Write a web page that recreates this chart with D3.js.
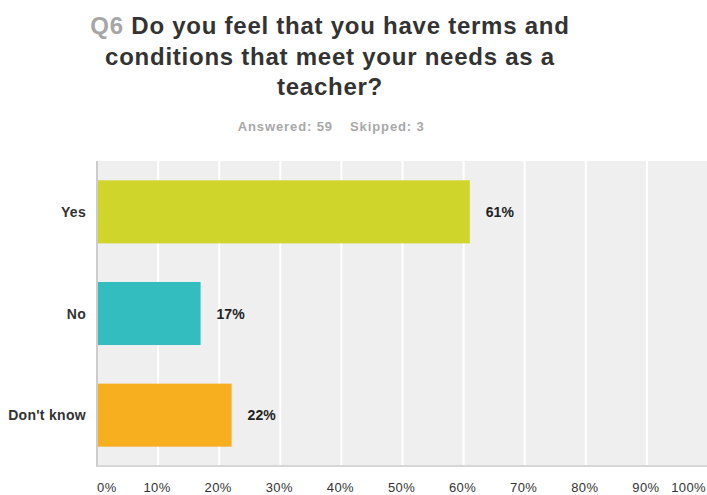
<!DOCTYPE html>
<html><head><meta charset="utf-8">
<script src="https://cdn.jsdelivr.net/npm/d3@7"></script>
<style>body{margin:0;background:#fff;}svg{display:block;font-family:"Liberation Sans",Arial,Helvetica,sans-serif;}</style>
</head><body>
<script>
const categories = ["Yes", "No", "Don't know"];
const values = [61.02, 16.95, 22.03];
const valueLabels = ["61%", "17%", "22%"];
const barColors = ["#cfd52a", "#33bdbf", "#f7af20"];
const tickValues = [0, 10, 20, 30, 40, 50, 60, 70, 80, 90, 100];
const tickLabels = ["0%", "10%", "20%", "30%", "40%", "50%", "60%", "70%", "80%", "90%", "100%"];
const titleLines = ["Do you feel that you have terms and", "conditions that meet your needs as a", "teacher?"];

(function () {
const W = 707, H = 495;
const svg = d3.select("body").append("svg").attr("width", W).attr("height", H);

const pLeft = 97, pRight = 708, pTop = 161, pBottom = 466;
const x = d3.scaleLinear().domain([0, 100]).range([pLeft, pRight]);
const y = d3.scaleBand().domain(categories).range([pTop, pBottom]).paddingInner(0.38).paddingOuter(0.19);

// Title
const cx = 330;
const titleStyle = sel => sel.attr("text-anchor", "middle").style("font-size", "24px")
  .style("font-weight", "bold").style("letter-spacing", "0.75px").attr("fill", "#333");
const t1 = svg.append("text").attr("x", cx).attr("y", 34).call(titleStyle);
t1.append("tspan").attr("fill", "#a6a6a6").text("Q6 ");
t1.append("tspan").text(titleLines[0]);
svg.append("text").attr("x", cx).attr("y", 65).call(titleStyle).text(titleLines[1]);
svg.append("text").attr("x", cx).attr("y", 95).call(titleStyle).text(titleLines[2]);

svg.append("text").attr("x", 333).attr("y", 131).attr("text-anchor", "end")
  .style("font-size", "13px").style("font-weight", "bold").style("letter-spacing", "0.9px")
  .attr("fill", "#a8a8a8").text("Answered: 59");
svg.append("text").attr("x", 350).attr("y", 131).attr("text-anchor", "start")
  .style("font-size", "13px").style("font-weight", "bold").style("letter-spacing", "0.9px")
  .attr("fill", "#a8a8a8").text("Skipped: 3");

// Plot background
svg.append("rect").attr("x", pLeft).attr("y", pTop).attr("width", pRight - pLeft).attr("height", pBottom - pTop).attr("fill", "#efefef");

// Gridlines
svg.append("g").selectAll("line").data(tickValues.slice(1)).join("line")
  .attr("x1", d => x(d)).attr("x2", d => x(d)).attr("y1", pTop).attr("y2", pBottom)
  .attr("stroke", "#ffffff").attr("stroke-width", 2);

// Axis lines
svg.append("line").attr("x1", pLeft).attr("x2", pLeft).attr("y1", pTop).attr("y2", pBottom + 1).attr("stroke", "#cccccc").attr("stroke-width", 2);
svg.append("line").attr("x1", pLeft).attr("x2", pRight).attr("y1", pBottom).attr("y2", pBottom).attr("stroke", "#d6d6d6").attr("stroke-width", 2);

// Bars
svg.append("g").selectAll("rect").data(categories).join("rect")
  .attr("x", x(0) + 1).attr("y", d => y(d))
  .attr("width", (d, i) => x(values[i]) - x(0) - 1).attr("height", y.bandwidth())
  .attr("fill", (d, i) => barColors[i]);

// Value labels
svg.append("g").selectAll("text").data(categories).join("text")
  .attr("x", (d, i) => x(values[i]) + 16).attr("y", d => y(d) + y.bandwidth() / 2 + 5)
  .style("font-size", "14px").style("font-weight", "bold").attr("fill", "#222")
  .text((d, i) => valueLabels[i]);

// Category labels
svg.append("g").selectAll("text").data(categories).join("text")
  .attr("x", 86).attr("y", d => y(d) + y.bandwidth() / 2 + 5).attr("text-anchor", "end")
  .style("font-size", "14px").style("font-weight", "bold").style("letter-spacing", "0.3px").attr("fill", "#333")
  .text(d => d);

// X tick labels
svg.append("g").selectAll("text").data(tickValues).join("text")
  .attr("x", (d, i) => i === 0 ? pLeft : (i === tickValues.length - 1 ? 706 : x(d) - 1))
  .attr("y", 492)
  .attr("text-anchor", (d, i) => i === 0 ? "start" : (i === tickValues.length - 1 ? "end" : "middle"))
  .style("font-size", "13px").style("letter-spacing", "0.4px").attr("fill", "#333")
  .text((d, i) => tickLabels[i]);
})();
</script>
</body></html>
